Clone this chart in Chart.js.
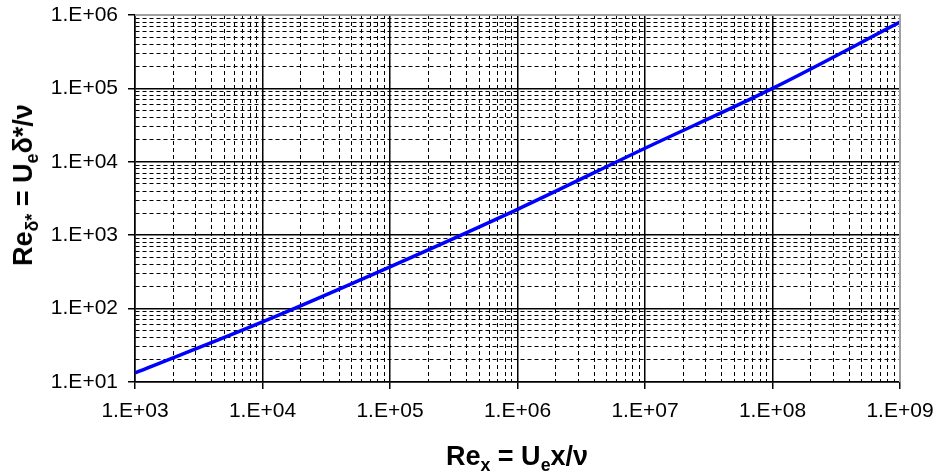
<!DOCTYPE html>
<html>
<head>
<meta charset="utf-8">
<script src="https://cdn.jsdelivr.net/npm/chart.js@4/dist/chart.umd.min.js"></script>
<style>
  html, body { margin: 0; padding: 0; background: #fff; }
  #wrap { position: relative; width: 938px; height: 473px; }
  canvas { position: absolute; left: 0; top: 0; }
  .axis-title {
    position: absolute;
    font-family: "Liberation Sans", Arial, sans-serif;
    font-weight: bold;
    font-size: 27px;
    line-height: 26px;
    color: #000;
    white-space: nowrap;
  }
  .axis-title sub { font-size: 0.66em; line-height: 0; vertical-align: -0.35em; }
  #xTitle { left: 517px; top: 443px; transform: translateX(-50%); }
  #yTitle { left: 23px; top: 185px; transform: translate(-50%, -50%) rotate(-90deg); }
</style>
</head>
<body>
<div id="wrap">
  <canvas id="chart" width="938" height="473"></canvas>
  <div class="axis-title" id="xTitle">Re<sub>x</sub> = U<sub>e</sub>x/ν</div>
  <div class="axis-title" id="yTitle">Re<sub>δ*</sub> = U<sub>e</sub>δ*/ν</div>
</div>
<script>
// Reynolds number based on x (decades) and the displacement-thickness Reynolds number
const reX = [1e3, 1e4, 1e5, 1e6, 1e7, 1e8, 1e9];
const reDeltaStar = [13.3, 66, 371, 2250, 15300, 100000, 800000];

// Decade tick labels
const xTickLabels = ['1.E+03', '1.E+04', '1.E+05', '1.E+06', '1.E+07', '1.E+08', '1.E+09'];
const yTickLabels = ['1.E+01', '1.E+02', '1.E+03', '1.E+04', '1.E+05', '1.E+06'];

const xMinExp = 3, xMaxExp = 9;
const yMinExp = 1, yMaxExp = 6;

function isDecade(v) {
  const l = Math.log10(v);
  return Math.abs(l - Math.round(l)) < 1e-9;
}

// every 1..9 x 10^n value between the two decades
function logTicks(minExp, maxExp) {
  const t = [];
  for (let e = minExp; e <= maxExp; e++) {
    for (let m = 1; m <= 9; m++) {
      if (e === maxExp && m > 1) break;
      t.push({ value: m * Math.pow(10, e) });
    }
  }
  return t;
}

function gridStyle(maxExp) {
  return {
    color: (c) => {
      if (!c.tick) return '#000';
      if (isDecade(c.tick.value) && Math.round(Math.log10(c.tick.value)) === maxExp) return '#a0a0a0';
      return '#000';
    },
    lineWidth: (c) => (c.tick && isDecade(c.tick.value) ? 1.5 : 1),
    tickColor: (c) => (c.tick && isDecade(c.tick.value) ? '#000' : 'rgba(0,0,0,0)'),
    tickLength: 7,
    tickWidth: 1.5
  };
}

function borderStyle() {
  return {
    display: true,
    color: '#000',
    width: 1.5,
    dash: (c) => (c.tick && !isDecade(c.tick.value) ? [4, 3] : [])
  };
}

// the plot area is set by the layout padding alone, not by label overhang
function noOverhang(s) {
  s.paddingTop = 0;
  s.paddingBottom = 0;
  s.paddingLeft = 0;
  s.paddingRight = 0;
}

// grey frame on the top and right sides of the plot area
const frame = {
  id: 'frame',
  afterDatasetsDraw(chart) {
    const { ctx, chartArea: a } = chart;
    ctx.save();
    ctx.strokeStyle = '#a0a0a0';
    ctx.lineWidth = 2;
    ctx.beginPath();
    ctx.moveTo(a.left, a.top);
    ctx.lineTo(a.right, a.top);
    ctx.lineTo(a.right, a.bottom);
    ctx.stroke();
    ctx.restore();
  }
};

const tickFont = { family: '"Liberation Sans", Arial, sans-serif', size: 21 };

new Chart(document.getElementById('chart'), {
  type: 'line',
  data: {
    datasets: [{
      data: reX.map((x, i) => ({ x: x, y: reDeltaStar[i] })),
      borderColor: '#0000ff',
      borderWidth: 3.5,
      pointRadius: 0,
      cubicInterpolationMode: 'monotone',
      fill: false
    }]
  },
  options: {
    responsive: false,
    devicePixelRatio: 1,
    animation: false,
    events: [],
    layout: { padding: { left: 0, right: 38, top: 15, bottom: 0 } },
    plugins: { legend: { display: false }, tooltip: { enabled: false } },
    scales: {
      x: {
        type: 'logarithmic',
        min: Math.pow(10, xMinExp),
        max: Math.pow(10, xMaxExp),
        afterBuildTicks: (s) => { s.ticks = logTicks(xMinExp, xMaxExp); },
        afterFit: (s) => { s.height = 91; noOverhang(s); },
        ticks: {
          autoSkip: false,
          maxRotation: 0,
          padding: 10,
          color: '#000',
          font: tickFont,
          callback: (v) => isDecade(v) ? xTickLabels[Math.round(Math.log10(v)) - xMinExp] : ''
        },
        grid: gridStyle(xMaxExp),
        border: borderStyle()
      },
      y: {
        type: 'logarithmic',
        min: Math.pow(10, yMinExp),
        max: Math.pow(10, yMaxExp),
        afterBuildTicks: (s) => { s.ticks = logTicks(yMinExp, yMaxExp); },
        afterFit: (s) => { s.width = 135; noOverhang(s); },
        ticks: {
          autoSkip: false,
          padding: 10,
          color: '#000',
          font: tickFont,
          callback: (v) => isDecade(v) ? yTickLabels[Math.round(Math.log10(v)) - yMinExp] : ''
        },
        grid: gridStyle(yMaxExp),
        border: borderStyle()
      }
    }
  },
  plugins: [frame]
});
</script>
</body>
</html>
